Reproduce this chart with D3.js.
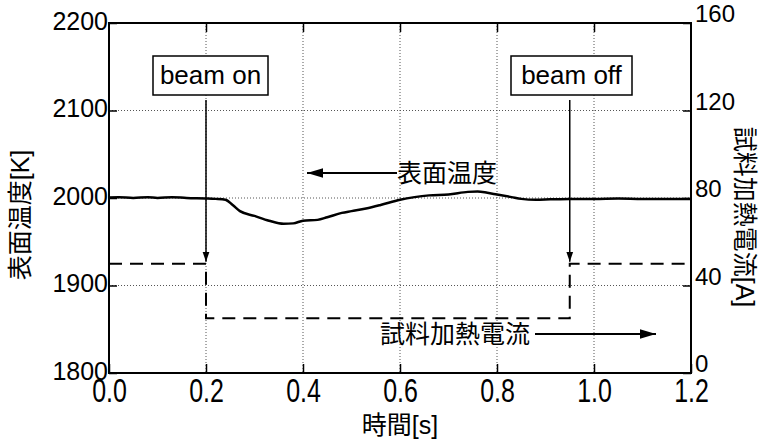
<!DOCTYPE html>
<html>
<head>
<meta charset="utf-8">
<script src="https://cdn.jsdelivr.net/npm/d3@7"></script>
<style>
  body { margin: 0; background: #fff; }
  svg text { font-family: "Liberation Sans", Arial, "Noto Sans CJK JP", sans-serif; fill: #000; }
  .grid line { stroke: #555; stroke-width: 1; stroke-dasharray: 1 2; }
</style>
</head>
<body>
<svg id="chart" width="761" height="441"></svg>
<script>
// surface temperature [K] vs time [s]
const tempTime = [0.00, 0.02, 0.05, 0.08, 0.10, 0.13, 0.16, 0.20, 0.22, 0.24, 0.255, 0.27, 0.30, 0.33, 0.36, 0.38,
  0.40, 0.43, 0.45, 0.48, 0.50, 0.53, 0.56, 0.60, 0.63, 0.66, 0.70, 0.74, 0.76, 0.78, 0.80, 0.83, 0.85, 0.88,
  0.91, 0.95, 1.00, 1.05, 1.10, 1.15, 1.20];
const tempValue = [2000.5, 2001, 2000, 2001, 2000, 2001, 2000, 1999.5, 1999, 1998, 1992, 1985, 1979.5, 1974, 1970.5, 1971,
  1974, 1975, 1978, 1983, 1985, 1988, 1992, 1998, 2001, 2003, 2004, 2007, 2007.5, 2006, 2004, 2001, 1999, 1998,
  1998.5, 1999, 1999, 1999.5, 1999, 1999, 1999];

// sample heating current [A]
const currentTime = [0, 0.2, 0.2, 0.95, 0.95, 1.2];
const currentValue = [50, 50, 25, 25, 50, 50];

const beamOnTime = 0.2;
const beamOffTime = 0.95;

const xTicks = [0, 0.2, 0.4, 0.6, 0.8, 1.0, 1.2];
const tempTicks = [1800, 1900, 2000, 2100, 2200];
const currentTicks = [0, 40, 80, 120, 160];

const plotLeft = 109, plotRight = 691, plotTop = 23, plotBottom = 373;
const svg = d3.select("#chart");

const x = d3.scaleLinear().domain([0, 1.2]).range([plotLeft, plotRight]);
const yT = d3.scaleLinear().domain([1800, 2200]).range([plotBottom, plotTop]);
const yA = d3.scaleLinear().domain([0, 160]).range([plotBottom, plotTop]);

const defs = svg.append("defs");
defs.append("marker")
  .attr("id", "head")
  .attr("viewBox", "0 0 10 10")
  .attr("refX", 10).attr("refY", 5)
  .attr("markerWidth", 10).attr("markerHeight", 10)
  .attr("markerUnits", "userSpaceOnUse")
  .attr("orient", "auto")
  .append("path").attr("d", "M0,1.5L10,5L0,8.5Z").attr("fill", "#000");

defs.append("marker")
  .attr("id", "bighead")
  .attr("viewBox", "0 0 10 10")
  .attr("refX", 10).attr("refY", 5)
  .attr("markerWidth", 16).attr("markerHeight", 12)
  .attr("markerUnits", "userSpaceOnUse")
  .attr("orient", "auto")
  .attr("preserveAspectRatio", "none")
  .append("path").attr("d", "M0,1L10,5L0,9Z").attr("fill", "#000");

// grid
const grid = svg.append("g").attr("class", "grid");
grid.selectAll(".gx").data(xTicks.slice(1, -1)).join("line")
  .attr("x1", d => x(d)).attr("x2", d => x(d)).attr("y1", plotTop).attr("y2", plotBottom);
grid.selectAll(".gy").data(tempTicks.slice(1, -1)).join("line")
  .attr("y1", d => yT(d)).attr("y2", d => yT(d)).attr("x1", plotLeft).attr("x2", plotRight);

// axes
function styleAxis(g) {
  g.select(".domain").remove();
  g.selectAll(".tick line").attr("stroke", "#000").attr("stroke-width", 1.5);
  g.selectAll("text").attr("font-size", "24px").attr("font-family", null);
}
// x labels in the original are tall and narrow
svg.append("g").attr("transform", `translate(0,${plotBottom})`)
  .call(d3.axisBottom(x).tickValues(xTicks).tickFormat(d3.format(".1f")).tickSizeInner(-9).tickSizeOuter(0))
  .call(styleAxis)
  .selectAll("text")
  .attr("font-size", "25px")
  .attr("y", 0).attr("dy", 0)
  .attr("transform", "translate(0,29) scale(1,1.35)");
svg.append("g").attr("transform", `translate(0,${plotTop})`)
  .call(d3.axisTop(x).tickValues(xTicks.slice(1, -1)).tickFormat("").tickSizeInner(-9).tickSizeOuter(0))
  .call(styleAxis);
svg.append("g").attr("transform", `translate(${plotLeft},0)`)
  .call(d3.axisLeft(yT).tickValues(tempTicks).tickFormat(d3.format("d")).tickSizeInner(-8).tickSizeOuter(0).tickPadding(1))
  .call(styleAxis)
  .selectAll("text").attr("font-size", "25px").attr("dy", "0.24em");
svg.append("g").attr("transform", `translate(${plotRight},0)`)
  .call(d3.axisRight(yA).tickValues(currentTicks).tickSizeInner(-8).tickSizeOuter(0).tickPadding(4))
  .call(styleAxis)
  .selectAll("text").attr("dy", "-0.06em");

svg.append("rect")
  .attr("x", plotLeft).attr("y", plotTop).attr("width", plotRight - plotLeft).attr("height", plotBottom - plotTop)
  .attr("fill", "none").attr("stroke", "#000").attr("stroke-width", 2);

// current (dashed)
const currentData = currentTime.map((t, i) => [t, currentValue[i]]);
svg.append("path")
  .datum(currentData)
  .attr("fill", "none").attr("stroke", "#000").attr("stroke-width", 2)
  .attr("stroke-dasharray", "13 8")
  .attr("d", d3.line().x(d => x(d[0])).y(d => yA(d[1])));

// temperature (solid)
const tempData = tempTime.map((t, i) => [t, tempValue[i]]);
svg.append("path")
  .datum(tempData)
  .attr("fill", "none").attr("stroke", "#000").attr("stroke-width", 2.5)
  .attr("stroke-linejoin", "round")
  .attr("d", d3.line().x(d => x(d[0])).y(d => yT(d[1])).curve(d3.curveMonotoneX));

// beam on / off boxes with arrows
const beams = [
  { label: "beam on", t: beamOnTime, bx: 153, bw: 115 },
  { label: "beam off", t: beamOffTime, bx: 511, bw: 121 }
];
const beamG = svg.selectAll(".beam").data(beams).join("g");
beamG.append("line")
  .attr("x1", d => x(d.t)).attr("x2", d => x(d.t))
  .attr("y1", 100).attr("y2", yA(50) - 2)
  .attr("stroke", "#000").attr("stroke-width", 1.5)
  .attr("marker-end", "url(#head)");
beamG.append("rect")
  .attr("x", d => d.bx).attr("y", 56).attr("width", d => d.bw).attr("height", 39)
  .attr("fill", "#fff").attr("stroke", "#000").attr("stroke-width", 1.5);
beamG.append("text")
  .attr("x", d => d.bx + d.bw / 2).attr("y", 84)
  .attr("text-anchor", "middle").attr("font-size", "26px")
  .text(d => d.label);

// series annotations
svg.append("line")
  .attr("x1", 397).attr("x2", 307).attr("y1", 173).attr("y2", 173)
  .attr("stroke", "#000").attr("stroke-width", 2).attr("marker-end", "url(#bighead)");
svg.append("text").attr("x", 397).attr("y", 182).attr("font-size", "25px").text("表面温度");

svg.append("text").attr("x", 380).attr("y", 343).attr("font-size", "25px").text("試料加熱電流");
svg.append("line")
  .attr("x1", 535).attr("x2", 656).attr("y1", 334).attr("y2", 334)
  .attr("stroke", "#000").attr("stroke-width", 2).attr("marker-end", "url(#bighead)");

// axis titles
svg.append("text")
  .attr("transform", "translate(29,215) rotate(-90)")
  .attr("text-anchor", "middle").attr("font-size", "25px")
  .text("表面温度[K]");
svg.append("text")
  .attr("transform", "translate(736,217) rotate(90)")
  .attr("text-anchor", "middle").attr("font-size", "25px")
  .text("試料加熱電流[A]");
svg.append("text")
  .attr("x", 400).attr("y", 434)
  .attr("text-anchor", "middle").attr("font-size", "25px")
  .text("時間[s]");
</script>
</body>
</html>
